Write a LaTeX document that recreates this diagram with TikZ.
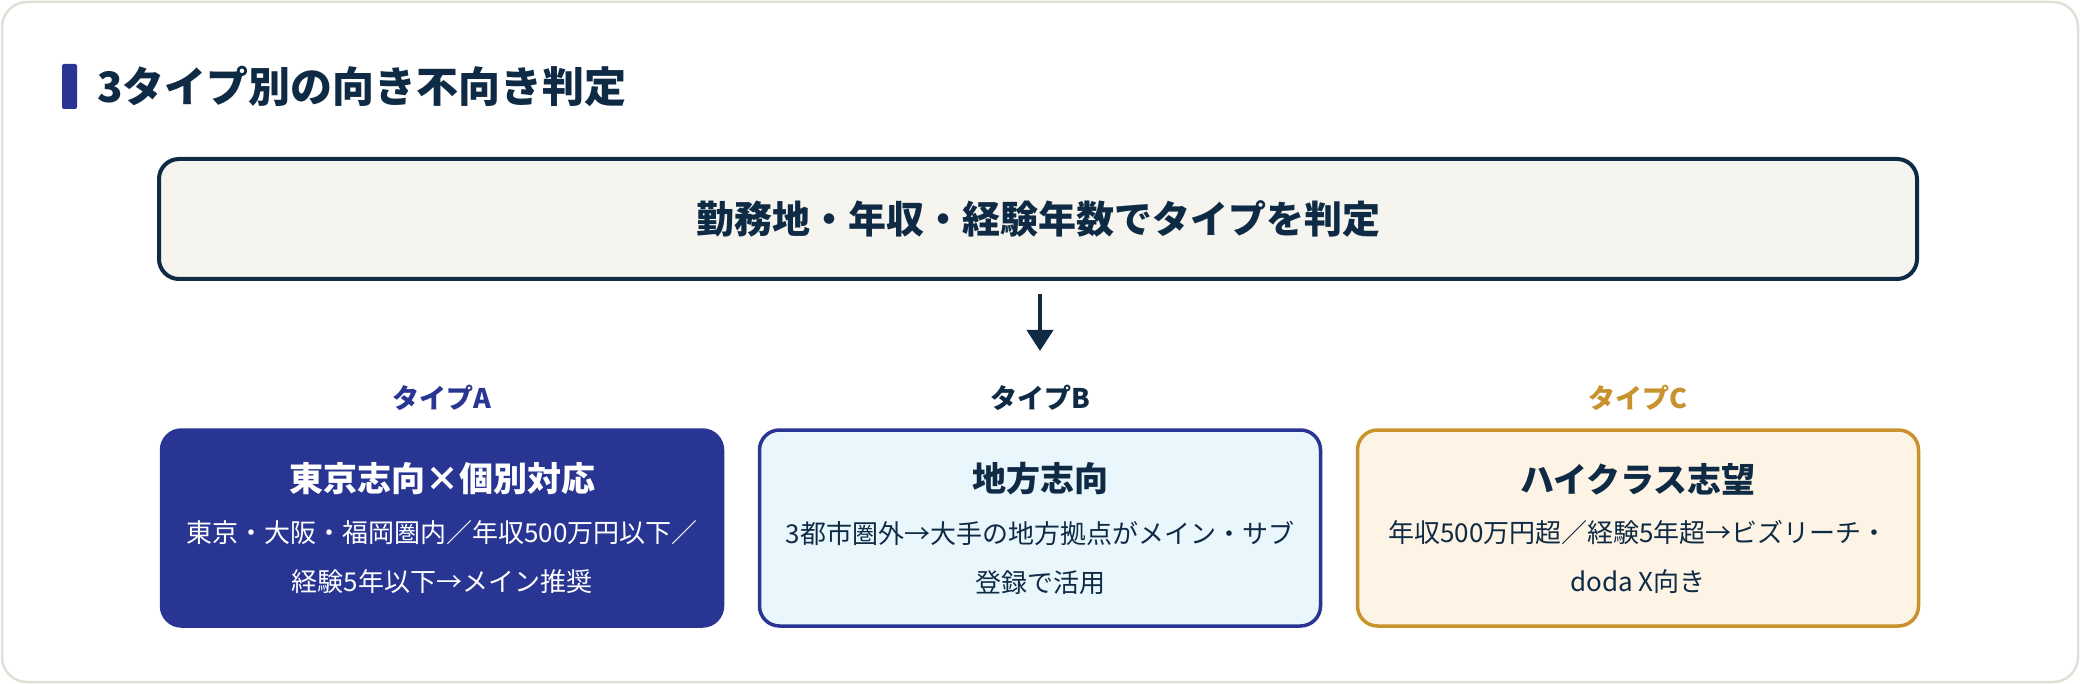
\documentclass[tikz,border=0pt]{standalone}
\usepackage{fontspec}
\setmainfont{Noto Sans CJK JP}
\usetikzlibrary{arrows.meta}
\definecolor{navy}{HTML}{0F2A44}
\definecolor{indigo}{HTML}{283593}
\definecolor{gold}{HTML}{C8922F}
\definecolor{topfill}{HTML}{F5F4EF}
\definecolor{bfill}{HTML}{E9F7FD}
\definecolor{cfill}{HTML}{FDF4E5}
\definecolor{cardline}{HTML}{E2E0D6}
\tikzset{
  card/.style={draw=cardline, line width=2.5pt, fill=white, rounded corners=25pt},
  topbox/.style={draw=navy, line width=4pt, fill=topfill, rounded corners=20pt,
    minimum width=1758pt, minimum height=120pt, inner sep=0pt,
    font=\fontsize{38}{44}\selectfont\bfseries, text=navy},
  typebox/.style={line width=3.5pt, rounded corners=20pt, minimum width=561pt,
    minimum height=196pt, inner sep=0pt},
  typelabel/.style={font=\fontsize{27}{32}\selectfont\bfseries, inner sep=0pt},
  boxtitle/.style={font=\fontsize{34}{40}\selectfont\bfseries, inner sep=0pt},
  boxbody/.style={font=\fontsize{26}{49}\selectfont, inner sep=0pt, align=center},
  flow/.style={draw=navy, line width=4pt, -{Triangle[width=26pt,length=21pt]}}
}
\begin{document}
\begin{tikzpicture}[x=1pt,y=-1pt]
\useasboundingbox (0,0) rectangle (2080,684);
\fill[white] (0,0) rectangle (2080,684);
\draw[card] (2,2) rectangle (2078,682);
% title
\node[fill=indigo, rounded corners=2pt, minimum width=15pt, minimum height=45pt, inner sep=0pt] (bar) at (69.5,86.5) {};
\node[anchor=west, inner sep=0pt, text=navy, font=\fontsize{42}{48}\selectfont\bfseries] (title) at (97,86) {3タイプ別の向き不向き判定};
% top box
\node[topbox] (top) at (1038,219) {勤務地・年収・経験年数でタイプを判定};
\coordinate (arrowend) at (1040,351);
\draw[flow] ([yshift=-13pt]top.south -| arrowend) -- (arrowend);
% labels
\node[typelabel, text=indigo] (labA) at (442,398) {タイプA};
\node[typelabel, text=navy] (labB) at (1040,398) {タイプB};
\node[typelabel, text=gold] (labC) at (1638,398) {タイプC};
% boxes
\node[typebox, draw=indigo, fill=indigo] (boxA) at (442,528) {};
\node[typebox, draw=indigo, fill=bfill] (boxB) at (1040,528) {};
\node[typebox, draw=gold, fill=cfill] (boxC) at (1638,528) {};
\node[boxtitle, text=white] (titA) at ([yshift=49pt]boxA.center) {東京志向×個別対応};
\node[boxbody, text=white] (bodyA) at ([yshift=-29.5pt]boxA.center) {東京・大阪・福岡圏内／年収500万円以下／\\経験5年以下→メイン推奨};
\node[boxtitle, text=navy] (titB) at ([yshift=49pt]boxB.center) {地方志向};
\node[boxbody, text=navy] (bodyB) at ([yshift=-29.5pt]boxB.center) {3都市圏外→大手の地方拠点がメイン・サブ\\登録で活用};
\node[boxtitle, text=navy] (titC) at ([yshift=49pt]boxC.center) {ハイクラス志望};
\node[boxbody, text=navy] (bodyC) at ([yshift=-29.5pt]boxC.center) {年収500万円超／経験5年超→ビズリーチ・\\doda X向き};
\end{tikzpicture}
\end{document}
